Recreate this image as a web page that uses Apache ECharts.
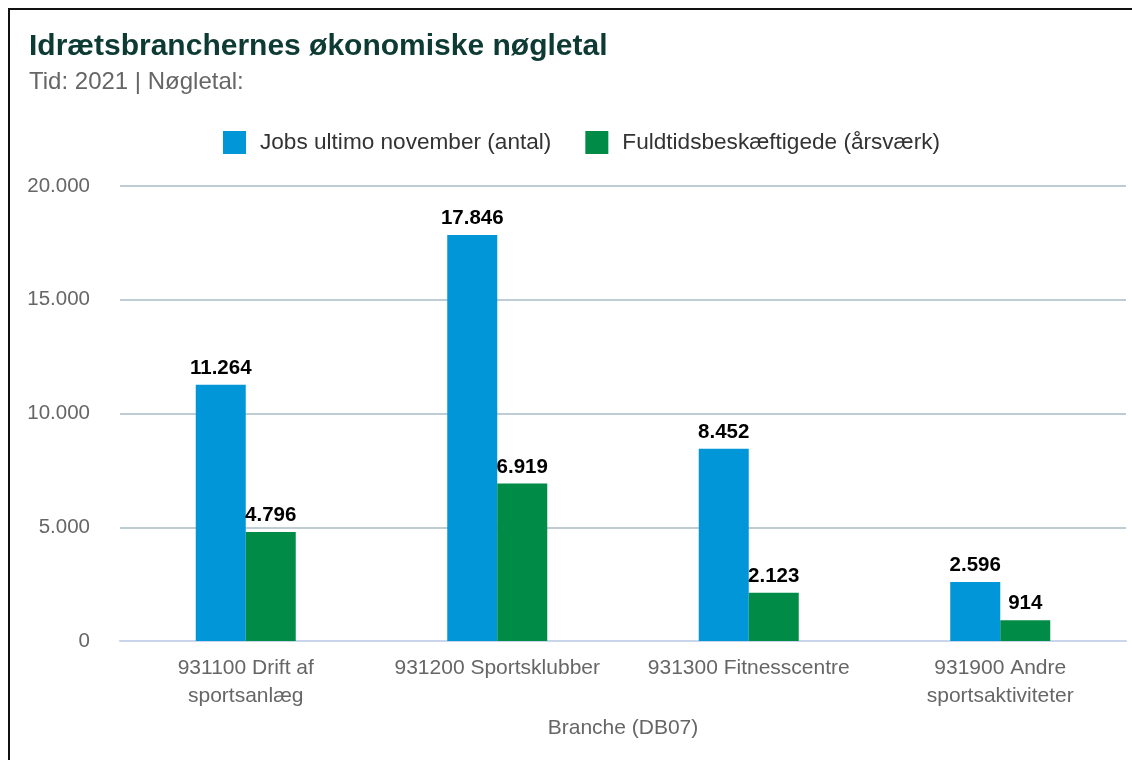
<!DOCTYPE html>
<html>
<head>
<meta charset="utf-8">
<script src="https://cdn.jsdelivr.net/npm/echarts@6/dist/echarts.min.js"></script>
<style>
html,body{margin:0;padding:0;background:#fff;}
#chart{width:1132px;height:760px;}
</style>
</head>
<body>
<div id="chart"></div>
<script>
var categories = ["931100 Drift af\nsportsanlæg", "931200 Sportsklubber", "931300 Fitnesscentre", "931900 Andre\nsportsaktiviteter"];
var jobs = [11264, 17846, 8452, 2596];
var fuldtid = [4796, 6919, 2123, 914];
var seriesNames = ["Jobs ultimo november (antal)", "Fuldtidsbeskæftigede (årsværk)"];

var fontName = "Liberation Sans, Arial, sans-serif";

// dansk tusindtalsseparator
var fmt = function(v){
	return String(v).replace(/\B(?=(\d{3})+(?!\d))/g, ".");
};

var chart = echarts.init(document.getElementById("chart"));
var option = {
	backgroundColor: "#fff",
	textStyle: {fontFamily: fontName},
	title: [{
		text: "Idrætsbranchernes økonomiske nøgletal",
		left: 24, top: 27,
		textStyle: {fontSize: 30, fontWeight: "bold", color: "#0d3b33", fontFamily: fontName}
	},{
		text: "Tid: 2021 | Nøgletal:",
		left: 24, top: 65,
		textStyle: {fontSize: 24, fontWeight: "normal", color: "#666", fontFamily: fontName}
	}],
	graphic: [{
		type: "rect",
		shape: {x: 9, y: 9, width: 1300, height: 900},
		style: {fill: null, stroke: "#111", lineWidth: 2},
		silent: true
	}],
	legend: {
		left: 218, top: 126,
		itemWidth: 23, itemHeight: 23, itemGap: 34,
		icon: "rect",
		data: seriesNames,
		textStyle: {fontSize: 22.6, color: "#333", padding: [0, 0, 0, 9], fontFamily: fontName}
	},
	grid: {left: 120, right: 6, top: 186, bottom: 119},
	xAxis: {
		type: "category",
		data: categories,
		name: "Branche (DB07)",
		nameLocation: "middle",
		nameGap: 77,
		nameTextStyle: {fontSize: 21, color: "#666", fontFamily: fontName},
		axisLine: {lineStyle: {color: "#c8d5ea", width: 2}},
		axisTick: {show: false},
		axisLabel: {interval: 0, fontSize: 21, color: "#666", margin: 13, lineHeight: 28, fontFamily: fontName}
	},
	yAxis: {
		type: "value",
		min: 0, max: 20000, interval: 5000,
		axisLine: {show: false},
		axisTick: {show: false},
		splitLine: {lineStyle: {color: "#a9bbc6", width: 1.5}},
		axisLabel: {fontSize: 20.5, color: "#666", margin: 30, formatter: fmt, fontFamily: fontName}
	},
	series: [{
		name: seriesNames[0],
		type: "bar",
		data: jobs,
		barWidth: 50,
		barGap: "0%",
		itemStyle: {color: "#0096d8"},
		label: {show: true, position: "top", distance: 6, fontSize: 20.5, fontWeight: "bold", color: "#000", formatter: function(p){return fmt(p.value);}}
	},{
		name: seriesNames[1],
		type: "bar",
		data: fuldtid,
		barWidth: 50,
		barGap: "0%",
		itemStyle: {color: "#008c47"},
		label: {show: true, position: "top", distance: 6, fontSize: 20.5, fontWeight: "bold", color: "#000", formatter: function(p){return fmt(p.value);}}
	}]
};
chart.setOption(option);
</script>
</body>
</html>
